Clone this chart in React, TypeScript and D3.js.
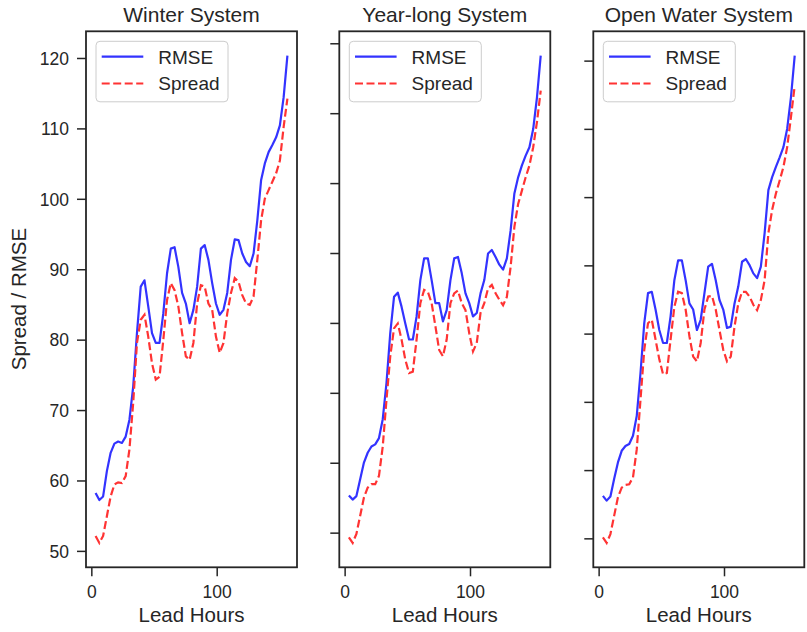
import React from "react";
import * as d3 from "d3";

const leadHours = [3,6,9,12,15,18,21,24,27,30,33,36,39,42,45,48,51,54,57,60,63,66,69,72,75,78,81,84,87,90,93,96,99,102,105,108,111,114,117,120,123,126,129,132,135,138,141,144,147,150,153,156];

const titles = ["Winter System", "Year-long System", "Open Water System"];

const winterRmse = [58.3,57.3,57.8,61.4,64.0,65.3,65.6,65.4,66.3,68.7,73.4,81.0,87.6,88.5,84.8,81.0,79.6,79.6,83.8,89.5,93.0,93.2,90.4,86.7,85.2,82.4,84.3,87.6,93.0,93.5,91.4,88.1,85.2,83.6,84.3,86.7,91.4,94.3,94.2,92.3,91.1,90.5,92.3,97.0,102.7,105.1,106.7,107.7,108.8,110.5,114.5,120.4];
const winterSpread = [52.2,51.2,52.2,55.0,57.8,59.5,59.8,59.7,60.7,64.5,71.1,79.6,82.9,83.6,80.5,76.7,74.4,74.8,80.0,85.7,88.1,87.1,84.8,81.0,77.7,77.2,79.6,85.2,87.8,87.6,85.2,84.3,80.5,78.2,79.6,83.8,86.7,88.8,88.3,86.4,85.2,85.0,86.2,91.4,97.0,100.1,101.3,102.5,103.7,105.5,110.3,114.3];

const yearRmse = [55.4,54.8,55.3,57.7,60.1,61.5,62.4,62.7,63.6,66.3,71.5,78.6,83.8,84.4,82.4,80.0,77.7,77.7,81.0,86.2,89.3,89.3,86.2,82.9,82.9,80.3,81.9,86.2,89.3,89.5,87.2,84.3,82.9,81.0,81.5,84.3,86.2,90.0,90.5,89.5,88.4,87.7,89.3,93.3,98.6,100.9,102.6,104.0,105.2,107.8,112.3,118.3];
const yearSpread = [49.4,48.6,49.9,52.5,55.1,56.5,57.0,57.0,58.2,62.4,69.1,75.3,79.3,80.0,77.7,74.8,72.9,73.1,77.7,82.9,84.8,84.5,82.9,79.6,76.2,75.3,77.7,82.9,84.3,84.7,82.9,81.9,78.6,76.0,77.2,81.5,82.9,85.0,85.5,84.3,83.4,82.6,83.8,88.1,93.8,97.1,99.0,100.9,102.6,105.2,108.8,113.3];

const openRmse = [56.3,55.6,56.2,58.8,61.2,62.9,63.6,63.9,65.1,68.0,74.3,81.6,86.0,86.2,83.6,80.6,78.7,78.7,82.6,87.9,90.8,90.8,87.9,84.5,83.6,80.6,82.1,86.0,89.9,90.3,87.9,85.0,83.6,80.9,81.1,84.5,87.0,90.6,91.0,90.1,88.9,88.2,89.9,94.8,101.1,103.0,104.5,105.9,107.4,110.1,114.7,120.8];
const openSpread = [50.2,49.4,50.7,53.4,56.1,57.5,57.9,58.0,59.0,63.1,70.4,77.7,81.6,82.1,79.2,76.3,74.1,74.3,79.2,84.0,86.2,86.0,83.6,79.7,76.7,76.0,78.7,83.6,85.5,85.6,83.6,80.6,77.7,76.0,76.7,81.1,84.5,86.2,86.2,85.5,84.3,83.5,85.0,87.9,94.8,98.2,100.6,102.5,104.5,107.4,111.8,116.4];

const yTicks = [50,60,70,80,90,100,110,120];
const xTicks = [0,100];
const seriesNames = ["RMSE", "Spread"];

const rmseSets = [winterRmse, yearRmse, openRmse];
const spreadSets = [winterSpread, yearSpread, openSpread];

const FONT = "'Liberation Sans', Arial, sans-serif";
const TXT = "#262626";
const BLUE = "rgb(51,51,255)";
const RED = "rgb(255,51,51)";

const panelLefts = [86, 339.3, 593.3];
const panelW = 211;
const top = 31.3;
const bottom = 567.3;

function margin(ext: [number, number]): [number, number] {
  const r = ext[1] - ext[0];
  return [ext[0] - 0.05 * r, ext[1] + 0.05 * r];
}

function Panel({ idx }: { idx: number }) {
  const left = panelLefts[idx];
  const rmse = rmseSets[idx];
  const spread = spreadSets[idx];
  const xDom = margin(d3.extent(leadHours) as [number, number]);
  const all = rmse.concat(spread);
  const yDom = margin(d3.extent(all) as [number, number]);
  const x = d3.scaleLinear().domain(xDom).range([left, left + panelW]);
  const y = d3.scaleLinear().domain(yDom).range([bottom, top]);
  const line = d3
    .line<number>()
    .x((_, i) => x(leadHours[i]))
    .y((d) => y(d));
  const cx = left + panelW / 2;
  return (
    <g>
      <text x={cx} y={22} textAnchor="middle" fontSize={21} fill={TXT} fontFamily={FONT}>
        {titles[idx]}
      </text>
      <path d={line(rmse) || ""} fill="none" stroke={BLUE} strokeWidth={2.2} strokeLinejoin="round" />
      <path d={line(spread) || ""} fill="none" stroke={RED} strokeWidth={2.2} strokeDasharray="8,3.5" />
      {yTicks.map((t) => (
        <g key={"y" + t}>
          <line x1={left - 9} x2={left} y1={y(t)} y2={y(t)} stroke={TXT} strokeWidth={1.5} />
          {idx === 0 && (
            <text x={left - 17} y={y(t) + 6.3} textAnchor="end" fontSize={17.5} fill={TXT} fontFamily={FONT}>
              {t}
            </text>
          )}
        </g>
      ))}
      {xTicks.map((t) => (
        <g key={"x" + t}>
          <line x1={x(t)} x2={x(t)} y1={bottom} y2={bottom + 9} stroke={TXT} strokeWidth={1.5} />
          <text x={x(t)} y={597.5} textAnchor="middle" fontSize={17.5} fill={TXT} fontFamily={FONT}>
            {t}
          </text>
        </g>
      ))}
      <text x={cx} y={622} textAnchor="middle" fontSize={20.5} fill={TXT} fontFamily={FONT}>
        Lead Hours
      </text>
      <rect x={left} y={top} width={panelW} height={bottom - top} fill="none" stroke={TXT} strokeWidth={1.8} />
      <g>
        <rect x={left + 10} y={top + 10} width={132} height={60.5} rx={4} fill="white" fillOpacity={0.8} stroke="#cccccc" strokeWidth={1} />
        <line x1={left + 15.7} x2={left + 57.3} y1={56.7} y2={56.7} stroke={BLUE} strokeWidth={2.2} />
        <line x1={left + 15.7} x2={left + 57.3} y1={83.5} y2={83.5} stroke={RED} strokeWidth={2.2} strokeDasharray="8,3.5" />
        <text x={left + 72.3} y={63.5} fontSize={19} fill={TXT} fontFamily={FONT}>{seriesNames[0]}</text>
        <text x={left + 72.3} y={90.3} fontSize={19} fill={TXT} fontFamily={FONT}>{seriesNames[1]}</text>
      </g>
    </g>
  );
}

export default function App() {
  return (
    <svg width={807} height={632} style={{ position: "absolute", left: 0, top: 0, background: "white" }}>
      <rect width={807} height={632} fill="white" />
      {[0, 1, 2].map((i) => (
        <Panel key={i} idx={i} />
      ))}
      <text transform="translate(26,299) rotate(-90)" textAnchor="middle" fontSize={20.5} fill={TXT} fontFamily={FONT}>
        Spread / RMSE
      </text>
    </svg>
  );
}
